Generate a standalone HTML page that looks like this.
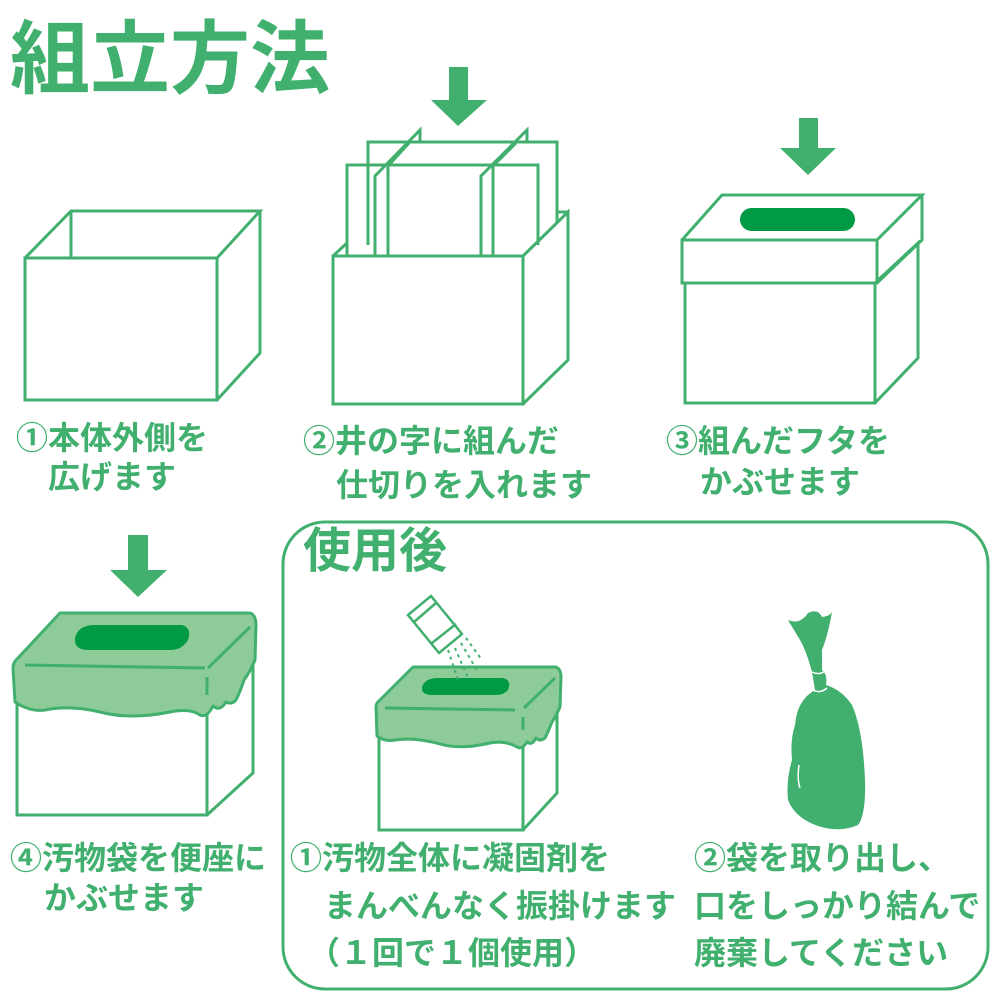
<!DOCTYPE html>
<html><head><meta charset="utf-8"><style>
html,body{margin:0;padding:0;background:#fff;}
body{width:1001px;height:1000px;position:relative;overflow:hidden;font-family:"Liberation Sans","Noto Sans CJK JP",sans-serif;color:#41b06f;}
.t{position:absolute;font-size:32px;font-weight:bold;white-space:nowrap;line-height:1;}
svg{position:absolute;left:0;top:0;}
</style></head><body>
<svg width="1001" height="1000" viewBox="0 0 1001 1000">
<g fill="none" stroke="#41b06f" stroke-width="3" stroke-linejoin="miter">
<rect x="25" y="258" width="192" height="142"/>
<polyline points="25,258 71,211 260,211 217,258"/>
<polyline points="260,211 260,353 217,400"/>
<line x1="71" y1="211" x2="71" y2="258"/>
<polyline points="368,245 368,142 557,142 557,222"/>
<polyline points="347,256 347,165 538,165 538,245"/>
<polyline points="375,256 375,176 420,130 420,142"/>
<line x1="388" y1="256" x2="388" y2="166"/>
<line x1="388" y1="166" x2="409" y2="143"/>
<polyline points="481,256 481,176 527,130 527,142"/>
<line x1="493" y1="256" x2="493" y2="166"/>
<line x1="493" y1="166" x2="516" y2="143"/>
<rect x="333" y="256" width="190" height="148" fill="#fff"/>
<polyline points="523,256 568,212 568,360 523,404"/>
<polyline points="333,256 347,243"/>
<line x1="557" y1="212" x2="568" y2="212"/>
<line x1="557" y1="212" x2="557" y2="222"/>
<rect x="682" y="240" width="195" height="43"/>
<polyline points="682,240 722,195 922,195 877,240"/>
<polyline points="922,195 922,240 877,283"/>
<rect x="685" y="283" width="190" height="120"/>
<polyline points="875,283 918,243 918,358 875,403"/>
<rect x="17" y="700" width="190" height="115"/>
<polyline points="207,700 253,660 253,773 207,815"/>
<rect x="379" y="730" width="144" height="100"/>
<polyline points="523,730 557,700 557,793 523,830"/>
<rect x="283" y="522" width="705" height="467" rx="42" ry="42"/>
</g>
<g fill="#41b06f">
<polygon points="449,67 468,67 468,100 487,100 458,126 431,100 449,100"/>
<polygon points="799,118 818,118 818,148 836,148 808,175 780,148 799,148"/>
<polygon points="128,535 148,535 148,570 167,570 138,597 110,570 128,570"/>
</g>
<rect x="740" y="208" width="115" height="23" rx="11.5" fill="#009a44"/>
<path d="M60,613 L250,613 Q256,615 256,625 L255,660 Q250,672 244,680 Q240,692 236,700 Q232,705 226,702 Q220,712 213,706 Q207,718 200,715 Q190,708 170,712 Q130,720 100,712 Q70,705 45,710 Q30,712 15,702 L13,668 Q13,662 18,658 Z" fill="#8dcb98" stroke="#41b06f" stroke-width="3" stroke-linejoin="round"/>
<line x1="25" y1="665" x2="205" y2="668" stroke="#41b06f" stroke-width="3"/>
<line x1="208" y1="668" x2="250" y2="627" stroke="#41b06f" stroke-width="3"/>
<line x1="207" y1="677" x2="207" y2="695" stroke="#41b06f" stroke-width="3"/>
<path d="M75,638 Q78,625 95,625 L182,625 Q192,628 188,640 Q182,650 170,650 L88,650 Q74,650 75,638 Z" fill="#009a44"/>
<path d="M413,667 L556,667 Q561,669 561,677 L560,707 Q556,716 552,722 Q548,732 545,738 Q540,742 536,738 Q532,746 527,742 Q522,750 517,747 Q505,740 490,743 Q460,750 440,744 Q415,737 395,740 Q385,742 377,736 L376,707 Q376,703 380,700 Z" fill="#8dcb98" stroke="#41b06f" stroke-width="3" stroke-linejoin="round"/>
<line x1="385" y1="708" x2="515" y2="710" stroke="#41b06f" stroke-width="3"/>
<line x1="524" y1="708" x2="555" y2="678" stroke="#41b06f" stroke-width="3"/>
<line x1="523" y1="717" x2="523" y2="730" stroke="#41b06f" stroke-width="3"/>
<path d="M422,687 Q425,678 438,678 L503,678 Q512,680 508,690 Q504,695 495,695 L432,695 Q421,695 422,687 Z" fill="#009a44"/>
<g stroke="#41b06f" stroke-width="2.5" fill="#fff">
<polygon points="408,615 431,596 462,634 439,653"/>
<line x1="414" y1="622" x2="436" y2="603"/>
<line x1="432" y1="643" x2="456" y2="624"/>
</g>
<g stroke="#41b06f" stroke-width="2" stroke-dasharray="3,4" fill="none">
<line x1="448" y1="650" x2="458" y2="680"/>
<line x1="455" y1="648" x2="468" y2="678"/>
<line x1="461" y1="643" x2="478" y2="672"/>
<line x1="466" y1="638" x2="482" y2="660"/>
</g>
<path d="M788,620 Q800,625 808,613 Q818,608 822,617 Q830,616 832,612 Q828,635 822,650 L822,670 Q828,675 826,685 Q842,690 852,705 Q863,730 865,780 Q866,815 858,825 Q840,833 818,826 Q795,818 788,800 Q786,780 792,760 Q790,740 795,725 Q797,700 815,690 L812,672 Q806,650 800,640 Z" fill="#41b06f"/>
<path d="M812,672 Q820,676 826,670 M813,690 Q820,694 827,688" stroke="#fff" stroke-width="1.5" fill="none"/>
<path d="M799,765 Q797,780 800,788" stroke="#fff" stroke-width="1.5" fill="none"/>
</svg>
<div class="t" style="left:10px;top:20px;font-size:80px;">組立方法</div>
<div class="t" style="left:303px;top:528px;font-size:48px;">使用後</div>
<div class="t" style="left:16px;top:422px;">①本体外側を</div>
<div class="t" style="left:48px;top:461px;">広げます</div>
<div class="t" style="left:303px;top:425px;">②井の字に組んだ</div>
<div class="t" style="left:336px;top:469px;">仕切りを入れます</div>
<div class="t" style="left:666px;top:425px;">③組んだフタを</div>
<div class="t" style="left:700px;top:466px;">かぶせます</div>
<div class="t" style="left:10px;top:842px;">④汚物袋を便座に</div>
<div class="t" style="left:44px;top:882px;">かぶせます</div>
<div class="t" style="left:290px;top:842px;">①汚物全体に凝固剤を</div>
<div class="t" style="left:324px;top:890px;">まんべんなく振掛けます</div>
<div class="t" style="left:308px;top:937px;">（１回で１個使用）</div>
<div class="t" style="left:694px;top:842px;">②袋を取り出し、</div>
<div class="t" style="left:694px;top:890px;">口をしっかり結んで</div>
<div class="t" style="left:694px;top:937px;">廃棄してください</div>
</body></html>
